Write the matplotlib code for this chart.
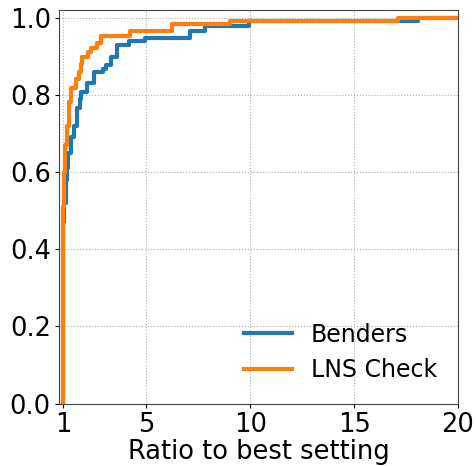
import matplotlib
matplotlib.use("Agg")
import matplotlib.pyplot as plt

# performance profile steps (ratio, fraction of instances)
benders_x = [1.0, 1.0, 1.05, 1.12, 1.18, 1.25, 1.38, 1.5, 1.67, 1.8, 1.86, 2.15, 2.49,
             2.9, 3.07, 3.31, 3.6, 4.18, 4.95, 7.11, 7.84, 9.92, 18.1, 20.0]
benders_y = [0.0, 0.47, 0.52, 0.58, 0.61, 0.65, 0.69, 0.72, 0.765, 0.79, 0.806, 0.83, 0.858,
             0.867, 0.876, 0.897, 0.928, 0.94, 0.948, 0.965, 0.978, 0.991, 1.0, 1.0]

lns_x = [1.0, 1.0, 1.04, 1.1, 1.2, 1.28, 1.38, 1.6, 1.76, 1.85, 1.91, 2.2, 2.34, 2.6,
         2.83, 4.21, 6.23, 9.04, 17.1, 20.0]
lns_y = [0.0, 0.51, 0.6, 0.67, 0.72, 0.78, 0.817, 0.84, 0.858, 0.88, 0.897, 0.91, 0.922, 0.935,
         0.952, 0.965, 0.982, 0.991, 1.0, 1.0]

xticks = [1, 5, 10, 15, 20]
yticks = [0.0, 0.2, 0.4, 0.6, 0.8, 1.0]

fig = plt.figure(figsize=(4.77, 4.66), dpi=100)
ax = fig.add_axes([0.124, 0.134, 0.836, 0.845])

ax.step(benders_x, benders_y, where='post', color='#1f77b4', lw=3, label='Benders')
ax.step(lns_x, lns_y, where='post', color='#ff7f0e', lw=3, label='LNS Check')

ax.set_xlim(0.8, 20)
ax.set_ylim(0, 1.02)
ax.set_xticks(xticks)
ax.set_yticks(yticks)
ax.tick_params(labelsize=18.5, length=3, pad=3)
for s in ax.spines.values():
    s.set_color('#444444')
ax.grid(True, linestyle=':', color='#b0b0b0')
ax.set_xlabel('Ratio to best setting', fontsize=18.5, labelpad=1)
ax.legend(loc='lower right', frameon=False, fontsize=17)

fig.savefig('out.png', dpi=100)
